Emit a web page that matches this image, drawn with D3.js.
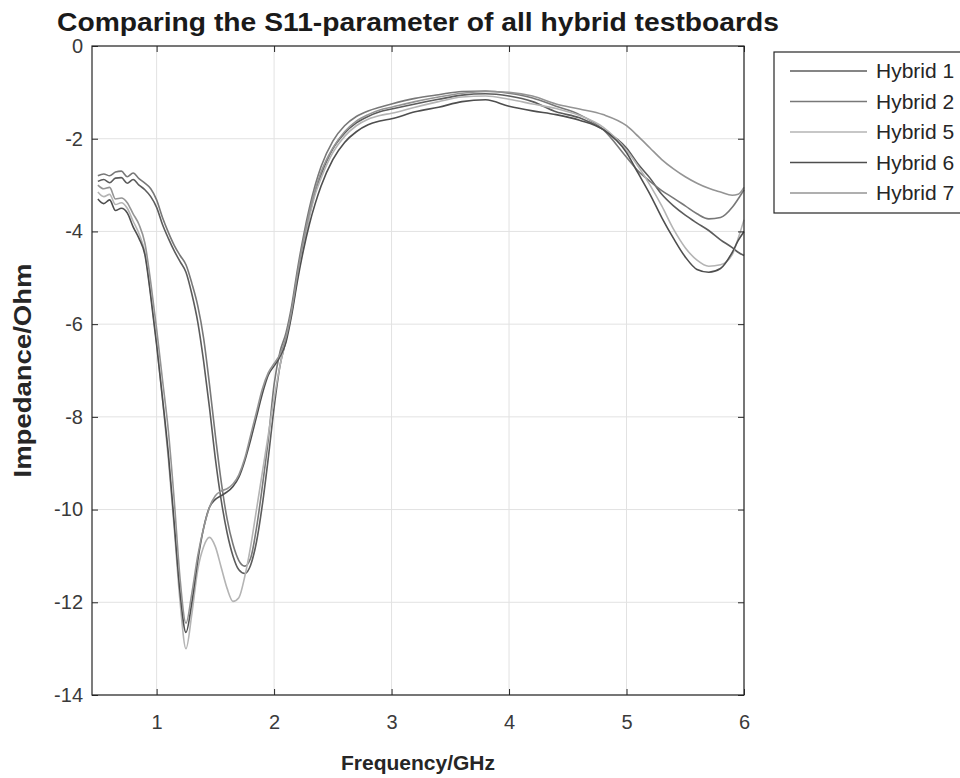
<!DOCTYPE html>
<html>
<head>
<meta charset="utf-8">
<script src="https://cdn.jsdelivr.net/npm/d3@7"></script>
<style>
  body { margin: 0; background: #fff; }
  svg { display: block; }
  text { font-family: "Liberation Sans", Arial, sans-serif; }
</style>
</head>
<body>
<svg id="chart" width="960" height="778"></svg>
<script>
// Frequency sweep (GHz)
const freq = [0.50,0.55,0.60,0.65,0.70,0.75,0.80,0.85,0.90,0.95,
              1.00,1.05,1.10,1.15,1.20,1.25,1.30,1.35,1.40,1.45,
              1.50,1.55,1.60,1.65,1.70,1.75,1.80,1.85,1.90,1.95,
              2.00,2.05,2.10,2.15,2.20,2.25,2.30,2.35,2.40,2.50,
              2.60,2.70,2.80,2.90,3.00,3.20,3.40,3.60,3.80,4.00,
              4.20,4.40,4.60,4.80,5.00,5.10,5.20,5.30,5.40,5.50,
              5.60,5.70,5.80,5.90,5.95,6.00];

// S11 per testboard
const hybrid1 = [-2.92,-2.88,-2.95,-2.85,-2.84,-2.96,-2.88,-3.00,-3.10,-3.25,
                 -3.48,-3.85,-4.15,-4.42,-4.65,-4.88,-5.35,-5.95,-6.80,-7.80,
                 -8.90,-9.80,-10.50,-11.00,-11.30,-11.38,-11.20,-10.70,-9.90,-8.90,
                 -7.80,-6.90,-6.35,-5.70,-4.95,-4.25,-3.65,-3.15,-2.78,-2.22,
                 -1.88,-1.66,-1.52,-1.42,-1.36,-1.25,-1.15,-1.06,-1.03,-1.08,
                 -1.20,-1.42,-1.55,-1.80,-2.20,-2.55,-2.85,-3.20,-3.45,-3.65,
                 -3.82,-3.98,-4.18,-4.35,-4.45,-4.52];
const hybrid2 = [-2.80,-2.76,-2.80,-2.72,-2.70,-2.82,-2.74,-2.86,-2.96,-3.08,
                 -3.32,-3.70,-4.02,-4.30,-4.52,-4.72,-5.12,-5.60,-6.30,-7.30,
                 -8.40,-9.40,-10.20,-10.75,-11.10,-11.22,-11.05,-10.40,-9.50,-8.50,
                 -7.30,-6.60,-6.20,-5.60,-4.80,-4.10,-3.50,-3.00,-2.60,-2.05,
                 -1.72,-1.52,-1.40,-1.32,-1.25,-1.13,-1.05,-0.98,-0.97,-1.02,
                 -1.12,-1.30,-1.48,-1.80,-2.40,-2.70,-2.92,-3.12,-3.28,-3.45,
                 -3.62,-3.73,-3.70,-3.48,-3.30,-3.10];
const hybrid5 = [-3.15,-3.25,-3.20,-3.42,-3.38,-3.50,-3.78,-4.05,-4.45,-5.35,
                 -6.40,-7.60,-8.90,-10.40,-12.00,-13.00,-12.25,-11.30,-10.80,-10.60,
                 -10.80,-11.25,-11.70,-11.98,-11.90,-11.45,-10.80,-10.00,-9.20,-8.40,
                 -7.60,-6.90,-6.35,-5.75,-5.00,-4.30,-3.70,-3.20,-2.85,-2.30,
                 -1.95,-1.72,-1.58,-1.50,-1.45,-1.32,-1.20,-1.10,-1.08,-1.15,
                 -1.25,-1.35,-1.50,-1.75,-2.25,-2.60,-3.00,-3.45,-3.95,-4.35,
                 -4.62,-4.75,-4.72,-4.50,-4.15,-3.75];
const hybrid6 = [-3.30,-3.40,-3.32,-3.55,-3.50,-3.60,-3.90,-4.15,-4.50,-5.40,
                 -6.45,-7.60,-8.80,-10.30,-11.80,-12.65,-12.00,-11.10,-10.40,-9.95,
                 -9.78,-9.70,-9.62,-9.50,-9.30,-8.95,-8.50,-8.00,-7.50,-7.10,
                 -6.90,-6.70,-6.40,-5.80,-5.05,-4.40,-3.85,-3.40,-3.02,-2.45,
                 -2.08,-1.85,-1.70,-1.62,-1.57,-1.42,-1.32,-1.20,-1.16,-1.30,
                 -1.40,-1.48,-1.60,-1.80,-2.30,-2.75,-3.20,-3.70,-4.15,-4.55,
                 -4.82,-4.88,-4.80,-4.45,-4.20,-4.00];
const hybrid7 = [-3.00,-3.08,-3.05,-3.30,-3.28,-3.38,-3.62,-3.85,-4.25,-5.10,
                 -6.10,-7.20,-8.30,-9.80,-11.50,-12.45,-11.80,-11.00,-10.40,-9.95,
                 -9.70,-9.60,-9.55,-9.45,-9.25,-8.90,-8.40,-7.90,-7.40,-7.05,
                 -6.85,-6.65,-6.30,-5.70,-4.90,-4.20,-3.60,-3.10,-2.72,-2.20,
                 -1.85,-1.62,-1.48,-1.38,-1.32,-1.20,-1.10,-1.02,-0.98,-1.00,
                 -1.08,-1.25,-1.36,-1.48,-1.72,-1.95,-2.20,-2.45,-2.65,-2.82,
                 -2.96,-3.07,-3.15,-3.22,-3.20,-3.05];

const seriesNames = ["Hybrid 1", "Hybrid 2", "Hybrid 5", "Hybrid 6", "Hybrid 7"];
const seriesValues = [hybrid1, hybrid2, hybrid5, hybrid6, hybrid7];
const seriesColors = ["#5c5c5c", "#787878", "#b4b4b4", "#4e4e4e", "#949494"];

const xTicks = [1, 2, 3, 4, 5, 6];
const yTicks = [0, -2, -4, -6, -8, -10, -12, -14];

const titleText = "Comparing the S11-parameter of all hybrid testboards";
const xLabel = "Frequency/GHz";
const yLabel = "Impedance/Ohm";

// Layout
const plot = { left: 92, right: 744, top: 46, bottom: 695 };
const axisColor = "#262626";

const svg = d3.select("#chart");

const x = d3.scaleLinear().domain([0.45, 6]).range([plot.left, plot.right]);
const y = d3.scaleLinear().domain([-14, 0]).range([plot.bottom, plot.top]);

// Grid
const grid = svg.append("g").attr("stroke", "#e2e2e2").attr("stroke-width", 1);
grid.selectAll("line.vx").data(xTicks).join("line")
  .attr("x1", d => x(d)).attr("x2", d => x(d))
  .attr("y1", plot.top).attr("y2", plot.bottom);
grid.selectAll("line.hy").data(yTicks).join("line")
  .attr("x1", plot.left).attr("x2", plot.right)
  .attr("y1", d => y(d)).attr("y2", d => y(d));

// Series
const line = d3.line()
  .x((d, i) => x(freq[i]))
  .y(d => y(d))
  .curve(d3.curveMonotoneX);

svg.append("g")
  .attr("fill", "none")
  .attr("stroke-width", 1.6)
  .attr("stroke-linejoin", "round")
  .selectAll("path")
  .data(seriesValues)
  .join("path")
  .attr("stroke", (d, i) => seriesColors[i])
  .attr("d", d => line(d));

// Axes with inward ticks on all four sides
function styleAxis(g) {
  g.select(".domain").remove();
  g.selectAll(".tick line").attr("stroke", axisColor);
  g.selectAll(".tick text")
    .attr("fill", "#3a3a3a")
    .style("font-size", "20px")
    .style("font-family", "'Liberation Sans', Arial, sans-serif");
}

svg.append("g")
  .attr("transform", `translate(0,${plot.bottom})`)
  .call(d3.axisBottom(x).tickValues(xTicks).tickFormat(d3.format("d"))
    .tickSizeInner(-6).tickSizeOuter(0).tickPadding(20))
  .call(styleAxis);

svg.append("g")
  .attr("transform", `translate(0,${plot.top})`)
  .call(d3.axisTop(x).tickValues(xTicks).tickFormat("")
    .tickSizeInner(-6).tickSizeOuter(0))
  .call(styleAxis);

svg.append("g")
  .attr("transform", `translate(${plot.left},0)`)
  .call(d3.axisLeft(y).tickValues(yTicks).tickFormat(d => d === 0 ? "0" : "-" + Math.abs(d))
    .tickSizeInner(-6).tickSizeOuter(0).tickPadding(9))
  .call(styleAxis);

svg.append("g")
  .attr("transform", `translate(${plot.right},0)`)
  .call(d3.axisRight(y).tickValues(yTicks).tickFormat("")
    .tickSizeInner(-6).tickSizeOuter(0))
  .call(styleAxis);

// Box
svg.append("rect")
  .attr("x", plot.left).attr("y", plot.top)
  .attr("width", plot.right - plot.left).attr("height", plot.bottom - plot.top)
  .attr("fill", "none").attr("stroke", axisColor).attr("stroke-width", 1.2);

// Title and axis labels
svg.append("text")
  .attr("x", (plot.left + plot.right) / 2).attr("y", 31)
  .attr("text-anchor", "middle")
  .attr("font-weight", "bold").attr("font-size", 26)
  .attr("fill", "#1a1a1a")
  .attr("textLength", 722).attr("lengthAdjust", "spacingAndGlyphs")
  .text(titleText);

svg.append("text")
  .attr("x", (plot.left + plot.right) / 2).attr("y", 770)
  .attr("text-anchor", "middle")
  .attr("font-weight", "bold").attr("font-size", 21)
  .attr("fill", "#262626")
  .text(xLabel);

svg.append("text")
  .attr("transform", `translate(31,${(plot.top + plot.bottom) / 2}) rotate(-90)`)
  .attr("text-anchor", "middle")
  .attr("font-weight", "bold").attr("font-size", 23)
  .attr("fill", "#262626")
  .attr("textLength", 214).attr("lengthAdjust", "spacingAndGlyphs")
  .text(yLabel);

// Legend
const legend = svg.append("g");
legend.append("rect")
  .attr("x", 774).attr("y", 52).attr("width", 200).attr("height", 161)
  .attr("fill", "#fff").attr("stroke", axisColor).attr("stroke-width", 1.2);

const rowY = i => 71 + i * 30.5;
const rows = legend.selectAll("g.row").data(seriesNames).join("g")
  .attr("transform", (d, i) => `translate(0,${rowY(i)})`);
rows.append("line")
  .attr("x1", 790).attr("x2", 867).attr("y1", 0).attr("y2", 0)
  .attr("stroke", (d, i) => seriesColors[i]).attr("stroke-width", 1.6);
rows.append("text")
  .attr("x", 876).attr("y", 0).attr("dy", "0.35em")
  .attr("font-size", 21).attr("fill", "#262626")
  .text(d => d);
</script>
</body>
</html>
